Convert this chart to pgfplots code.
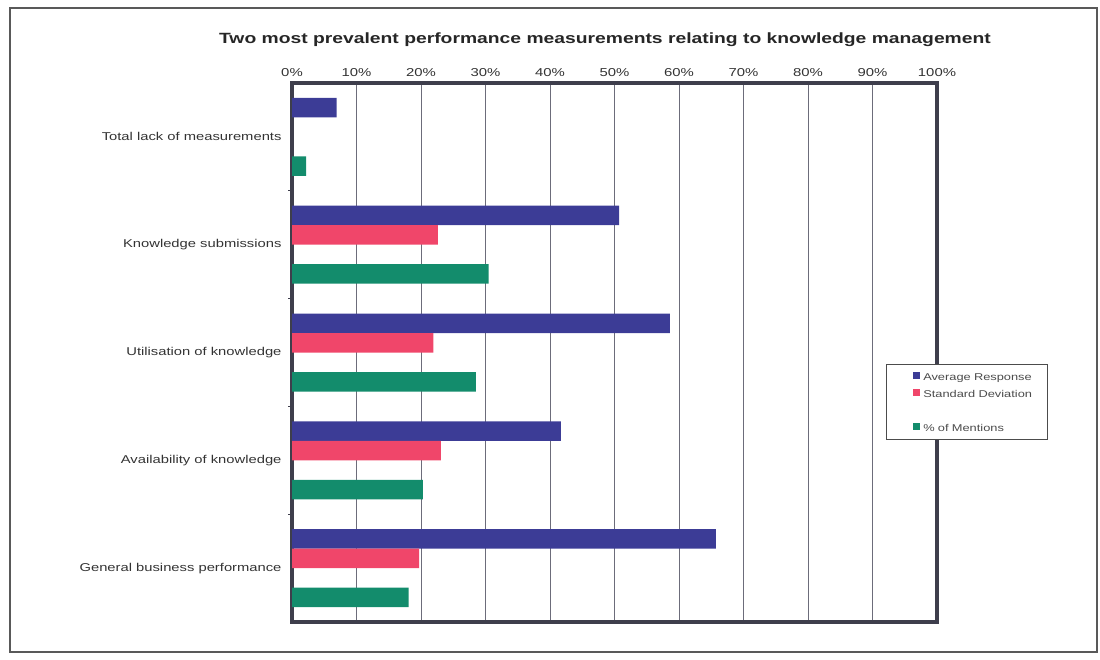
\documentclass[border=0pt]{standalone}
\usepackage{pgfplots}
\pgfplotsset{compat=1.18}
\usepackage{fontspec}
\setmainfont{Liberation Sans}
\newfontfamily\cf[FakeStretch=1.3]{Liberation Sans}
\definecolor{cblue}{HTML}{3C3C96}
\definecolor{cred}{HTML}{F0466A}
\definecolor{cgreen}{HTML}{138C6C}
\definecolor{frame}{HTML}{3E3E4C}
\definecolor{gridc}{HTML}{6C6C7A}
\begin{document}
\begin{tikzpicture}
\useasboundingbox (0bp,0bp) rectangle (1100bp,660bp);
\draw[gray!70!black, line width=1.2bp] (10bp,8bp) rectangle (1097bp,652bp);
\node[font=\cf\bfseries\fontsize{14.9}{17}\selectfont, text=black!85] at (605bp,620bp) {Two most prevalent performance measurements relating to knowledge management};
\begin{axis}[
  at={(292bp,38bp)}, anchor=south west,
  scale only axis, width=645bp, height=539bp,
  xbar, xmin=0, xmax=100, ymin=-0.5, ymax=4.5, y dir=reverse,
  bar width=19.5bp,
  axis line style={line width=3.5bp, draw=frame},
  xmajorgrids, major grid style={line width=1bp, draw=gridc},
  xtick={0,10,...,100},
  xticklabels={0\%,10\%,20\%,30\%,40\%,50\%,60\%,70\%,80\%,90\%,100\%},
  xticklabel pos=top,
  xticklabel style={font=\cf\fontsize{11.5}{13}\selectfont, text=black!80, yshift=3bp},
  ytick={0,1,2,3,4}, ytick pos=left,
  yticklabels={Total lack of measurements,Knowledge submissions,Utilisation of knowledge,Availability of knowledge,General business performance},
  yticklabel style={font=\cf\fontsize{11.4}{13}\selectfont, text=black!80, xshift=-7bp},
  minor ytick={0.5,1.5,2.5,3.5},
  major tick length=0pt, minor tick length=4bp, tick align=outside,
  minor tick style={line width=1bp, draw=frame},
  legend style={at={(0.921,0.479)}, anchor=north west, draw=gray!60!black, fill=white,
    font=\cf\fontsize{9.9}{11}\selectfont, text=black!70, row sep=3bp, inner xsep=4bp, inner ysep=5bp,
    nodes={inner sep=1bp, text height=10bp, text depth=2bp, text width=119bp}},
  legend cell align=left,
  legend image code/.code={\path (0bp,0bp) (32bp,0bp); \fill[#1] (23bp,-3bp) rectangle (30bp,4bp);},
]
\addplot[fill=cblue, draw=none, bar shift=29.25bp] coordinates {(6.9,0) (50.7,1) (58.6,2) (41.7,3) (65.7,4)};
\addlegendentry{Average Response}
\addplot[fill=cred, draw=none, bar shift=9.75bp] coordinates {(22.6,1) (21.9,2) (23.1,3) (19.7,4)};
\addlegendentry{Standard Deviation}
\addlegendimage{empty legend}
\addlegendentry{}
\addplot[fill=cgreen, draw=none, bar shift=-29.25bp] coordinates {(2.2,0) (30.5,1) (28.5,2) (20.3,3) (18.1,4)};
\addlegendentry{\% of Mentions}
\end{axis}
\end{tikzpicture}
\end{document}
